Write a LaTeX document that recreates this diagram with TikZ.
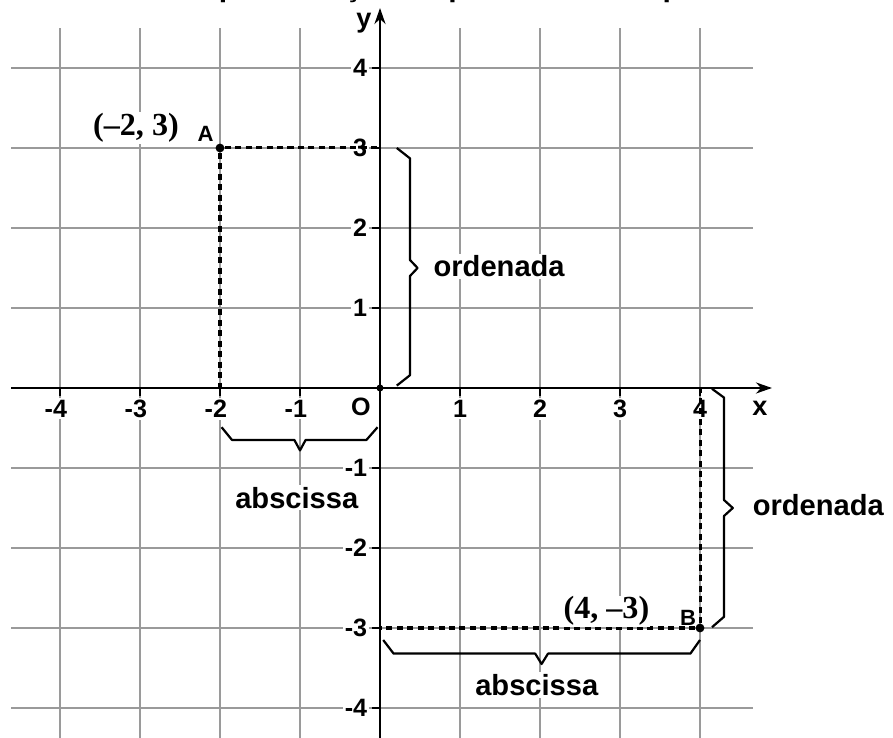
\documentclass[tikz,border=0pt]{standalone}
\usepackage{fontspec}
\setmainfont{Liberation Sans}
\newfontfamily\coordserif{Liberation Serif}
\usetikzlibrary{positioning,arrows.meta}
\definecolor{ink}{HTML}{000000}
\definecolor{gridc}{HTML}{9A9A9A}

\begin{document}
\begin{tikzpicture}[
  x=1.4cm, y=1.4cm,
  every node/.style={font=\bfseries},
  gridline/.style={draw=gridc, line width=0.6pt},
  axis/.style={-{Stealth[length=8pt,width=5.5pt]}, line width=1.3pt, draw=ink},
  tick/.style={line width=1.3pt, draw=ink},
  guide/.style={dash pattern=on 3pt off 2.2pt, line width=1.5pt, draw=ink},
  brace/.style={line width=1.1pt, draw=ink, line join=round},
  ticklab/.style={font=\fontsize{12.5}{14}\selectfont\bfseries, fill=white, inner sep=1pt},
  word/.style={font=\fontsize{14.5}{17}\selectfont\bfseries, fill=white, inner sep=1pt},
  coordlab/.style={font=\fontsize{16}{18}\selectfont\coordserif\bfseries, fill=white, inner sep=0.5pt},
  ptlab/.style={font=\fontsize{11}{13}\selectfont\bfseries, inner sep=0pt},
  pt/.style={circle, fill=ink, inner sep=0pt, minimum size=4.4pt}
]
\useasboundingbox (-4.75,-4.375) rectangle (6.4125,4.85);
\clip (-4.75,-4.375) rectangle (6.4125,4.85);

% Caption, cut off by the top edge
\node[anchor=base west, font=\fontsize{15}{18}\selectfont\bfseries, inner sep=0pt] (title)
  at (-4.55,4.89) {Gráfico 1 – Representação de pontos em um plano cartesiano};

% Grid
\foreach \i in {-4,...,4} \draw[gridline] (\i,-4.4) -- (\i,4.5);
\foreach \j in {-4,...,4} \draw[gridline] (-4.61,\j) -- (4.66,\j);

% Axes
\coordinate (xstart) at (-4.61,0);
\coordinate (xend)   at (4.9,0);
\coordinate (ystart) at (0,-4.4);
\coordinate (yend)   at (0,4.75);
\draw[axis] (xstart) -- (xend);
\draw[axis] (ystart) -- (yend);
\node[ticklab, font=\fontsize{13.5}{15}\selectfont\bfseries, fill=none] (xlab) at (4.75,-0.26) {x};
\node[ticklab, font=\fontsize{13.5}{15}\selectfont\bfseries, fill=none] (ylab) at (-0.2,4.56) {y};

% Ticks and numbers
\foreach \i in {-4,...,4} {
  \draw[tick] (\i,0) -- (\i,-0.1);
  \draw[tick] (0,\i) -- (-0.1,\i);
}
\foreach \i in {1,...,4} {
  \node[ticklab, anchor=north] (xp\i) at (\i,-0.12) {\i};
  \node[ticklab, anchor=north] (xn\i) at (-\i,-0.12) {\llap{-}\i};
  \node[ticklab, anchor=east] (yp\i) at (-0.13,\i) {\i};
  \node[ticklab, anchor=east] (yn\i) at (-0.13,-\i) {-\i};
}
\node[ticklab, fill=none] (olab) at (-0.24,-0.24) {O};
\node[pt, minimum size=3.5pt] (O) at (0,0) {};

% Point A
\node[pt] (A) at (-2,3) {};
\coordinate (Ay) at (0,3);
\coordinate (Ax) at (-2,0);
\draw[guide] (A) -- (Ay);
\draw[guide] (A) -- (Ax);
\node[ptlab] (Alab) at (-2.18,3.17) {A};
\node[coordlab] (Acoord) at (-3.05,3.25) {(–2, 3)};

% Point B
\node[pt] (B) at (4,-3) {};
\coordinate (By) at (0,-3);
\coordinate (Bx) at (4,0);
\draw[guide] (B) -- (By);
\draw[guide] (B) -- (Bx);
\node[ptlab] (Blab) at (3.85,-2.87) {B};
\node[coordlab] (Bcoord) at (2.83,-2.79) {(4, –3)};

% Braces for A
\draw[brace] (0.21,3) -- (0.375,2.87) -- (0.375,1.6) -- (0.47,1.5) -- (0.375,1.4) -- (0.375,0.16) -- (0.21,0.03);
\node[word, anchor=west] (ordA) at (0.64,1.52) {ordenada};
\draw[brace] (-1.98,-0.49) -- (-1.85,-0.65) -- (-1.07,-0.65) -- (-1,-0.78) -- (-0.93,-0.65) -- (-0.17,-0.65) -- (-0.03,-0.49);
\node[word] (absA) at (-1.04,-1.37) {abscissa};

% Braces for B
\draw[brace] (4.15,-0.01) -- (4.3,-0.12) -- (4.3,-1.4) -- (4.41,-1.5) -- (4.3,-1.6) -- (4.3,-2.86) -- (4.15,-2.99);
\node[word, anchor=west] (ordB) at (4.63,-1.46) {ordenada};
\draw[brace] (0.04,-3.15) -- (0.17,-3.32) -- (1.94,-3.32) -- (2.02,-3.45) -- (2.1,-3.32) -- (3.88,-3.32) -- (4,-3.15);
\node[word] (absB) at (1.96,-3.71) {abscissa};

\end{tikzpicture}
\end{document}
